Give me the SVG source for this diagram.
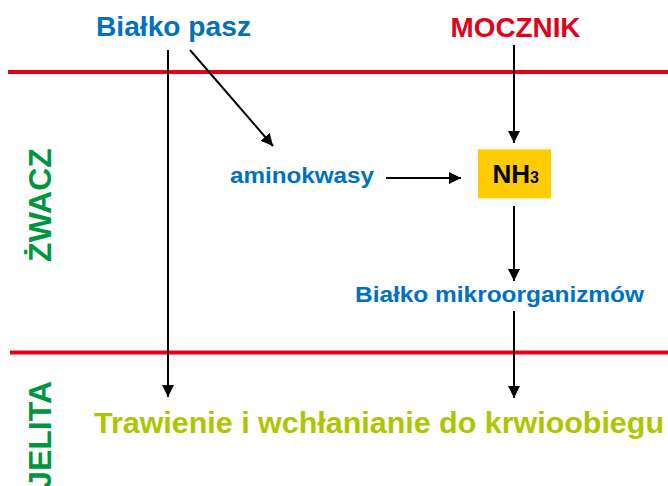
<svg xmlns="http://www.w3.org/2000/svg" width="668" height="486" viewBox="0 0 668 486">
<defs>
<marker id="ah" markerWidth="12" markerHeight="12" refX="12" refY="6" orient="auto" markerUnits="userSpaceOnUse">
<path d="M0,0 L12,6 L0,12 z" fill="#000"/>
</marker>
<style>
text{font-family:"Liberation Sans",Arial,sans-serif;font-weight:bold}
.blue{fill:#0070C0}
.red{fill:#E2001A}
.green{fill:#00963F}
.lime{fill:#AEC600}
.sep{stroke:#E2001A;stroke-width:4}
.conn{stroke:#000;stroke-width:2;fill:none;marker-end:url(#ah)}
</style>
</defs>
<rect width="668" height="486" fill="#fff"/>
<g id="separators">
<line class="sep" x1="8" y1="72" x2="668" y2="72"/>
<line class="sep" x1="10" y1="352.5" x2="668" y2="352.5"/>
</g>
<g id="labels-side">
<text class="green" font-size="32" text-anchor="middle" transform="translate(50.5,205) rotate(-90)">ŻWACZ</text>
<text class="green" font-size="32" text-anchor="end" transform="translate(50.5,381) rotate(-90)">JELITA</text>
</g>
<g id="connectors">
<line class="conn" x1="168" y1="50" x2="168" y2="397"/>
<line class="conn" x1="190" y1="50" x2="273" y2="146"/>
<line class="conn" x1="514" y1="45" x2="514" y2="143"/>
<line class="conn" x1="386" y1="178" x2="461" y2="178"/>
<line class="conn" x1="514" y1="206" x2="514" y2="281"/>
<line class="conn" x1="514" y1="311" x2="514" y2="398"/>
</g>
<g id="bialko-pasz">
<text class="blue" x="96" y="35.5" font-size="28" textLength="155" lengthAdjust="spacingAndGlyphs">Białko pasz</text>
</g>
<g id="mocznik">
<text class="red" x="450.5" y="36.5" font-size="28" textLength="130" lengthAdjust="spacingAndGlyphs">MOCZNIK</text>
</g>
<g id="aminokwasy">
<text class="blue" x="230" y="183.3" font-size="22" textLength="144" lengthAdjust="spacingAndGlyphs">aminokwasy</text>
</g>
<g id="nh3">
<rect x="478" y="149.3" width="73" height="49" fill="#FFCC00"/>
<text x="492.5" y="183.3" font-size="26" fill="#000">NH<tspan font-size="16">3</tspan></text>
</g>
<g id="bialko-mikro">
<text class="blue" x="355" y="301.7" font-size="22" textLength="289" lengthAdjust="spacingAndGlyphs">Białko mikroorganizmów</text>
</g>
<g id="trawienie">
<text class="lime" x="94" y="433" font-size="30" textLength="570" lengthAdjust="spacingAndGlyphs">Trawienie i wchłanianie do krwioobiegu</text>
</g>
</svg>
